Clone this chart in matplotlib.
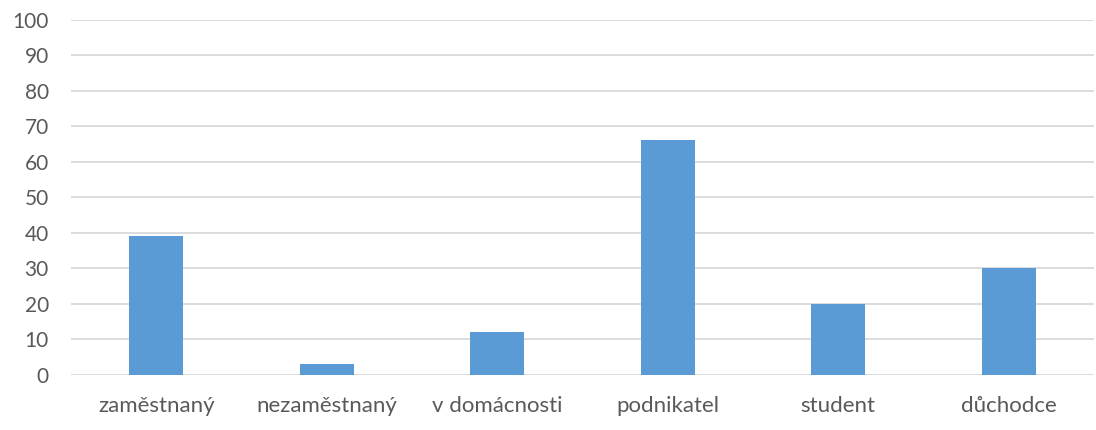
import matplotlib
matplotlib.use("Agg")
import matplotlib.pyplot as plt

categories = ["zaměstnaný", "nezaměstnaný", "v domácnosti", "podnikatel", "student", "důchodce"]
values = [39, 3, 12, 66, 20, 30]
yticks = list(range(0, 101, 10))

plt.rcParams['font.family'] = ['Lato', 'DejaVu Sans']

fig = plt.figure(figsize=(10.96, 4.30), dpi=100)
ax = fig.add_axes([71/1096, 1 - 375/430, (1094 - 71)/1096, (375 - 19.5)/430])

x = list(range(len(categories)))
ax.bar(x, values, width=0.317, color="#5B9BD5", zorder=3)
ax.set_xlim(-0.5, len(categories) - 0.5)
ax.set_ylim(0, 100)
ax.set_yticks(yticks)
ax.set_xticks(x)
ax.set_xticklabels(categories)
ax.grid(axis='y', color="#D9D9D9", linewidth=1.3, zorder=0)
for s in ax.spines.values():
    s.set_visible(False)
ax.tick_params(axis='both', length=0, labelcolor="#595959")
ax.tick_params(axis='y', pad=16, labelsize=15)
ax.tick_params(axis='x', pad=15, labelsize=16)

fig.savefig("out.png", dpi=100)
